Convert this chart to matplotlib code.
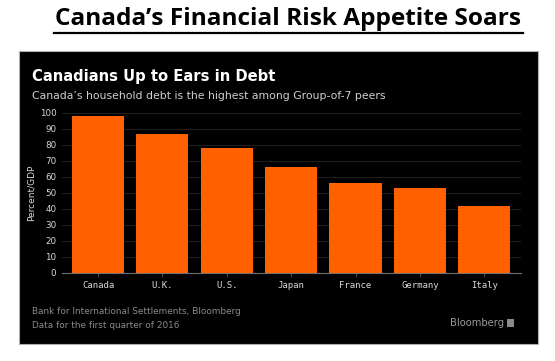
"""
Canada household debt vs G7 peers - Bloomberg style bar chart
"""
import matplotlib
matplotlib.use('Agg')
import matplotlib.pyplot as plt
from matplotlib.patches import Rectangle

# data (percent of GDP, Q1 2016)
countries = ['Canada', 'U.K.', 'U.S.', 'Japan', 'France', 'Germany', 'Italy']
debt_pct = [98, 87, 78, 66, 56, 53, 42]
y_ticks = list(range(0, 101, 10))

W, H = 555, 361
fig = plt.figure(figsize=(W / 100, H / 100), dpi=100)
fig.patch.set_facecolor('white')

# black panel behind the chart
panel = Rectangle((19 / W, 1 - 344 / H), (538 - 19) / W, (344 - 51) / H,
                  transform=fig.transFigure, facecolor='black',
                  edgecolor='#b0b0b0', linewidth=0.8, zorder=-5)
fig.patches.append(panel)

# page title
fig.text(288 / W, 1 - 19 / H, 'Canada\u2019s Financial Risk Appetite Soars',
         ha='center', va='center', fontsize=17.6, fontweight='bold',
         family='Open Sans', color='black')
fig.add_artist(plt.Line2D([54 / W, 523 / W], [1 - 33 / H, 1 - 33 / H],
                          color='black', linewidth=1.6, transform=fig.transFigure))

# chart heading
fig.text(32 / W, 1 - 76 / H, 'Canadians Up to Ears in Debt', ha='left', va='center',
         fontsize=10.6, fontweight='bold', color='white', family='DejaVu Sans')
fig.text(32 / W, 1 - 96 / H,
         'Canada\u2019s household debt is the highest among Group-of-7 peers',
         ha='left', va='center', fontsize=7.8, color='#cfcfcf', family='DejaVu Sans')

ax = fig.add_axes([62 / W, 1 - 273 / H, (521 - 62) / W, (273 - 113) / H])
ax.set_facecolor('black')
x = range(len(countries))
ax.bar(x, debt_pct, width=0.81, color='#ff6000', zorder=3)
ax.set_xlim(-0.56, 6.57)
ax.set_ylim(0, 100)
ax.set_yticks(y_ticks)
ax.set_yticklabels([str(v) for v in y_ticks], family='DejaVu Sans', fontsize=6.3,
                   color='#d8d8d8')
ax.set_xticks(list(x))
ax.set_xticklabels(countries, family='DejaVu Sans Mono', fontsize=6.5, color='#d8d8d8')
ax.tick_params(axis='y', length=0, pad=4)
ax.tick_params(axis='x', length=2, color='#555555', pad=4)
ax.grid(axis='y', color='#262626', linewidth=0.6, zorder=0)
for side in ['top', 'right', 'left']:
    ax.spines[side].set_visible(False)
ax.spines['bottom'].set_color('#707070')
ax.spines['bottom'].set_linewidth(0.8)
ax.set_ylabel('Percent/GDP', color='#d8d8d8', fontsize=6.5, labelpad=3)

# footer
fig.text(32 / W, 1 - 312 / H, 'Bank for International Settlements, Bloomberg',
         ha='left', va='center', fontsize=6.4, color='#8a8a8a')
fig.text(32 / W, 1 - 325 / H, 'Data for the first quarter of 2016',
         ha='left', va='center', fontsize=6.4, color='#8a8a8a')
fig.text(504 / W, 1 - 323 / H, 'Bloomberg', ha='right', va='center',
         fontsize=7.2, color='#9a9a9a')
fig.patches.append(Rectangle((507 / W, 1 - 327 / H), 7 / W, 8 / H,
                             transform=fig.transFigure, facecolor='#8a8a8a'))

fig.savefig('out.png', dpi=100, facecolor='white')
